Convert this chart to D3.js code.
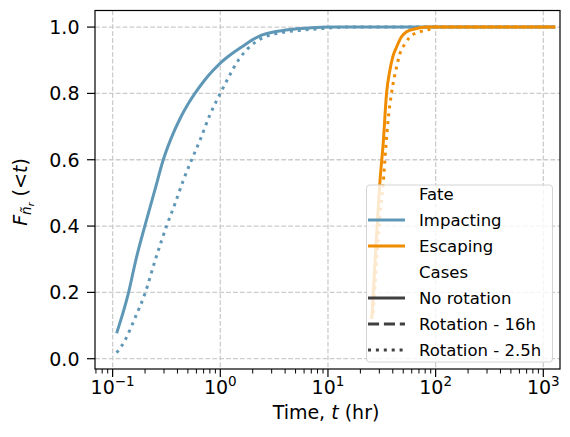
<!DOCTYPE html>
<html>
<head>
<meta charset="utf-8">
<script src="https://cdn.jsdelivr.net/npm/d3@7"></script>
<style>
  body { margin: 0; background: #fff; }
  svg text { font-family: "DejaVu Sans", sans-serif; fill: #000; }
</style>
</head>
<body>
<div id="chart"></div>
<script>
// Impacting particles: CDF of time (hr)
const impactNoRotT = [0.109, 0.140, 0.165, 0.199, 0.247, 0.295, 0.35, 0.42, 0.50, 0.581, 0.70, 0.85, 0.99, 1.26, 1.58, 1.95, 2.42, 3.2, 4.5, 6.5, 10, 20, 50, 200, 1290];
const impactNoRotF = [0.077, 0.197, 0.30, 0.40, 0.509, 0.599, 0.665, 0.722, 0.767, 0.80, 0.836, 0.868, 0.89, 0.918, 0.94, 0.96, 0.976, 0.986, 0.993, 0.997, 1.0, 1.0, 1.0, 1.0, 1.0];
const impactRot25T = [0.109, 0.13, 0.16, 0.2, 0.25, 0.317, 0.38, 0.45, 0.54, 0.65, 0.8, 1.0, 1.2, 1.47, 1.8, 2.42, 3.5, 5.5, 9, 15, 50, 200, 1290];
const impactRot25F = [0.018, 0.055, 0.12, 0.197, 0.30, 0.40, 0.468, 0.535, 0.599, 0.66, 0.735, 0.80, 0.85, 0.90, 0.935, 0.966, 0.982, 0.99, 0.996, 1.0, 1.0, 1.0, 1.0];

// Escaping particles
const escapeNoRotT = [25.5, 26.6, 27.8, 29.0, 30.3, 32.6, 35, 37.6, 40, 43.4, 48, 53.7, 65, 82, 120, 1290];
const escapeNoRotF = [0.12, 0.22, 0.33, 0.43, 0.529, 0.65, 0.80, 0.87, 0.91, 0.94, 0.97, 0.986, 0.995, 1.0, 1.0, 1.0];
const escapeRot25T = [26.3, 27.6, 29.0, 30.6, 32.6, 34.5, 36.2, 38.9, 43.4, 46.6, 52, 57.6, 70, 82, 100, 300, 1290];
const escapeRot25F = [0.137, 0.24, 0.34, 0.44, 0.53, 0.64, 0.72, 0.80, 0.88, 0.92, 0.95, 0.97, 0.985, 0.99, 1.0, 1.0, 1.0];

// Ticks and legend
const xTickExps = [-1, 0, 1, 2, 3];
const yTicks = [0.0, 0.2, 0.4, 0.6, 0.8, 1.0];
const legendLabels = ["Fate", "Impacting", "Escaping", "Cases", "No rotation", "Rotation - 16h", "Rotation - 2.5h"];

const blue = "#5f97b6";
const orange = "#f08c00";
const dark = "#404040";

const W = 570, H = 437;
const margin = { top: 10.5, right: 10, bottom: 68, left: 95 },
  width = W - margin.left - margin.right,
  height = H - margin.top - margin.bottom;

const svg = d3.select("#chart").append("svg")
  .attr("width", W).attr("height", H);

const g = svg.append("g")
  .attr("transform", "translate(" + margin.left + "," + margin.top + ")");

const x = d3.scaleLog().domain([0.0686, 1429]).range([0, width]);
const y = d3.scaleLinear().domain([-0.031, 1.05]).range([height, 0]);

// Grid
const gridStyle = (sel) => sel.attr("stroke", "#cccccc").attr("stroke-width", 1.3).attr("stroke-dasharray", "4.8,2.1");
g.selectAll("line.gx").data(xTickExps).enter().append("line")
  .attr("x1", d => x(Math.pow(10, d))).attr("x2", d => x(Math.pow(10, d)))
  .attr("y1", 0).attr("y2", height).call(gridStyle);
g.selectAll("line.gy").data(yTicks).enter().append("line")
  .attr("x1", 0).attr("x2", width)
  .attr("y1", d => y(d)).attr("y2", d => y(d)).call(gridStyle);

// Lines
const line = d3.line()
  .x(d => x(d[0]))
  .y(d => y(d[1]))
  .curve(d3.curveMonotoneX);

const series = [
  { t: impactNoRotT, f: impactNoRotF, color: blue, dash: null },
  { t: impactRot25T, f: impactRot25F, color: blue, dash: "3,4.9" },
  { t: escapeRot25T, f: escapeRot25F, color: orange, dash: "3,4.9" },
  { t: escapeNoRotT, f: escapeNoRotF, color: orange, dash: null },
];
series.forEach(s => {
  g.append("path")
    .datum(d3.zip(s.t, s.f))
    .attr("d", line)
    .attr("fill", "none")
    .attr("stroke", s.color)
    .attr("stroke-width", 3)
    .attr("stroke-dasharray", s.dash);
});

// Legend
const lg = svg.append("g");
lg.append("rect")
  .attr("x", 366.5).attr("y", 185).attr("width", 186).attr("height", 177)
  .attr("rx", 3)
  .attr("fill", "rgba(255,255,255,0.8)")
  .attr("stroke", "#d4d4d4").attr("stroke-width", 1);
const handles = [null, { c: blue, d: null }, { c: orange, d: null }, null,
  { c: dark, d: null }, { c: dark, d: "11.1,4.8" }, { c: dark, d: "3,4.9" }];
legendLabels.forEach((lab, i) => {
  const cy = 194 + i * 26;
  if (handles[i]) {
    lg.append("line")
      .attr("x1", 368).attr("x2", 405).attr("y1", cy).attr("y2", cy)
      .attr("stroke", handles[i].c).attr("stroke-width", 3)
      .attr("stroke-dasharray", handles[i].d);
  }
  lg.append("text").attr("x", 419).attr("y", cy + 6)
    .style("font-size", "16.5px").text(lab);
});

// Frame
g.append("rect").attr("width", width).attr("height", height)
  .attr("fill", "none").attr("stroke", "#000").attr("stroke-width", 1.2);

// X ticks (major + minor)
const minor = [];
for (let e = -2; e <= 3; e++) for (let m = 2; m <= 9; m++) {
  const v = m * Math.pow(10, e);
  if (v > x.domain()[0] && v < x.domain()[1]) minor.push(v);
}
g.selectAll("line.mx").data(minor).enter().append("line")
  .attr("x1", d => x(d)).attr("x2", d => x(d))
  .attr("y1", height).attr("y2", height + 4.5)
  .attr("stroke", "#000").attr("stroke-width", 1);
g.selectAll("line.tx").data(xTickExps).enter().append("line")
  .attr("x1", d => x(Math.pow(10, d))).attr("x2", d => x(Math.pow(10, d)))
  .attr("y1", height).attr("y2", height + 8)
  .attr("stroke", "#000").attr("stroke-width", 1.2);
const xl = g.selectAll("text.tx").data(xTickExps).enter().append("text")
  .attr("x", d => x(Math.pow(10, d)))
  .attr("y", height + 25)
  .attr("text-anchor", "middle")
  .style("font-size", "19px");
xl.append("tspan").text("10");
xl.append("tspan").attr("dy", -8).style("font-size", "13.5px")
  .text(d => d < 0 ? "\u2212" + (-d) : String(d));

// Y ticks
g.selectAll("line.ty").data(yTicks).enter().append("line")
  .attr("x1", -8).attr("x2", 0)
  .attr("y1", d => y(d)).attr("y2", d => y(d))
  .attr("stroke", "#000").attr("stroke-width", 1.2);
g.selectAll("text.ty").data(yTicks).enter().append("text")
  .attr("x", -15.5).attr("y", d => y(d) + 7)
  .attr("text-anchor", "end")
  .style("font-size", "19px")
  .text(d => d.toFixed(1));

// Axis labels
const xlab = svg.append("text")
  .attr("x", 326).attr("y", 419)
  .attr("text-anchor", "middle")
  .style("font-size", "19px");
xlab.append("tspan").text("Time, ");
xlab.append("tspan").style("font-style", "italic").text("t");
xlab.append("tspan").text(" (hr)");

const ylab = svg.append("text")
  .attr("transform", "rotate(-90)")
  .attr("x", -192).attr("y", 27)
  .attr("text-anchor", "middle")
  .style("font-size", "19px");
ylab.append("tspan").style("font-style", "italic").text("F");
ylab.append("tspan").attr("dy", 4).style("font-style", "italic").style("font-size", "13.5px").text("\u00f1");
ylab.append("tspan").attr("dy", 2.5).style("font-style", "italic").style("font-size", "9.5px").text("r");
ylab.append("tspan").attr("dy", -6.5).text(" (<");
ylab.append("tspan").style("font-style", "italic").text("t");
ylab.append("tspan").text(")");
</script>
</body>
</html>
